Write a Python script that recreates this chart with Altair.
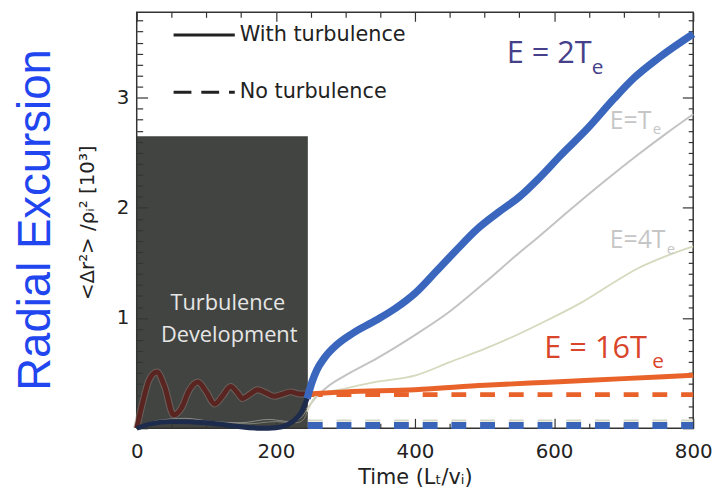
import altair as alt
import pandas as pd

# ---------------- data ----------------
# E = 2Te, with turbulence (thick blue)
t_2te = [0, 20, 50, 100, 140, 178, 200, 216, 228, 237, 245, 252, 259, 270, 288, 310, 344, 370,
         401, 430, 460, 490, 520, 550, 580, 610, 648, 686, 715, 750, 800]
v_2te = [0.0, 0.04, 0.06, 0.05, 0.02, 0.0, 0.005, 0.03, 0.08, 0.15, 0.27, 0.42, 0.53, 0.64, 0.76,
         0.86, 0.98, 1.08, 1.23, 1.42, 1.62, 1.81, 1.96, 2.10, 2.28, 2.48, 2.72, 2.99, 3.18, 3.36, 3.58]

# E = Te, with turbulence (thin grey)
t_1te = [0, 30, 70, 110, 150, 190, 220, 235, 245, 250, 273, 300, 344, 401, 450, 500, 544, 580,
         615, 672, 720, 760, 800]
v_1te = [0.0, 0.07, 0.09, 0.06, 0.05, 0.08, 0.06, 0.09, 0.17, 0.22, 0.37, 0.48, 0.63, 0.85, 1.06,
         1.32, 1.56, 1.75, 1.94, 2.24, 2.48, 2.67, 2.85]

# E = 4Te, with turbulence (thin pale)
t_4te = [0, 40, 80, 120, 160, 200, 230, 240, 245, 259, 300, 344, 401, 450, 500, 544, 590, 639,
         680, 720, 760, 800]
v_4te = [0.0, 0.05, 0.07, 0.05, 0.04, 0.06, 0.05, 0.08, 0.15, 0.30, 0.36, 0.42, 0.48, 0.60, 0.72,
         0.84, 0.98, 1.14, 1.30, 1.45, 1.56, 1.65]

# E = 16Te, with turbulence (orange)
t_16te = [0, 8, 18, 29, 40, 53, 65, 75, 88, 100, 112, 123, 135, 145, 152, 163, 174, 186, 198,
          210, 221, 235, 245, 300, 400, 500, 600, 700, 800]
v_16te = [0.0, 0.22, 0.44, 0.51, 0.38, 0.12, 0.19, 0.34, 0.42, 0.33, 0.22, 0.29, 0.38, 0.32, 0.27,
          0.31, 0.35, 0.32, 0.29, 0.31, 0.33, 0.31, 0.31, 0.33, 0.35, 0.39, 0.42, 0.45, 0.48]

# No turbulence (dashed)
t_noturb = [246, 800]
v_noturb_16te = [0.305, 0.305]
v_noturb_low = [0.07, 0.07]
v_noturb_2te = [0.025, 0.025]

# Turbulence-development box
box_t = [0, 246]
box_v = [0, 2.65]
dev_end = 245

# legend
legend_t = [53, 141]
legend_v = [3.57, 3.05]
legend_text = ["With turbulence", "No turbulence"]

# annotations
lab_text = ["E = 2T", "E=T", "E=4T", "E = 16T"]
lab_t = [532, 680, 680, 586]
lab_v = [3.40, 2.79, 1.71, 0.72]
sub_text = ["e", "e", "e", "e"]
sub_t = [654, 742, 762, 741]
sub_v = [3.27, 2.72, 1.63, 0.60]
dev_text = ["Turbulence", "Development"]
dev_t = [131, 133]
dev_v = [1.14, 0.85]
side_text = ["Radial Excursion"]
side_t = [-145]
side_v = [1.89]

x_labels = [0, 200, 400, 600, 800]
y_labels = [1, 2, 3]
x_major = [0, 200, 400, 600, 800]
x_minor = [v for v in range(50, 800, 50) if v % 200]
y_major = [0, 1, 2, 3]
y_minor = [round(i * 0.1, 1) for i in range(1, 38) if i % 10]

# ---------------- chart ----------------
X = alt.Scale(domain=[0, 800], nice=False, zero=False)
Y = alt.Scale(domain=[0, 3.775], nice=False, zero=False)


def tick_axis(orient, values, size):
    return alt.Axis(orient=orient, values=values, tickSize=alt.ExprRef(expr=str(-size)),
                    labels=False, domain=False, grid=False, title=None, ticks=True,
                    tickColor="#333333", tickWidth=1.2)


def line(ts, vs, color, width, dash=None, xa=None, ya=None, opacity=1.0):
    df = pd.DataFrame({"t": ts, "v": vs})
    kw = dict(color=color, strokeWidth=width, interpolate="monotone", opacity=opacity,
              strokeCap="butt")
    if dash:
        kw["strokeDash"] = dash
    return alt.Chart(df).mark_line(**kw).encode(
        x=alt.X("t:Q", scale=X, axis=xa),
        y=alt.Y("v:Q", scale=Y, axis=ya),
    )


def split(ts, vs):
    a = [(t, v) for t, v in zip(ts, vs) if t <= dev_end]
    b = [(t, v) for t, v in zip(ts, vs) if t >= dev_end]
    return [p[0] for p in a], [p[1] for p in a], [p[0] for p in b], [p[1] for p in b]


def text(texts, ts, vs, **mk):
    df = pd.DataFrame({"t": ts, "v": vs, "label": texts})
    return alt.Chart(df).mark_text(**mk).encode(
        x=alt.X("t:Q", scale=X, axis=None),
        y=alt.Y("v:Q", scale=Y, axis=None),
        text="label:N",
    )


x_lab_axis = alt.Axis(orient="bottom", values=x_labels, ticks=False, domain=False, grid=False,
                      labelFlush=False, labelFont="DejaVu Sans", labelFontSize=20,
                      labelColor="#222222", labelPadding=14,
                      title="Time (L\u209c/v\u1d62)", titleFont="DejaVu Sans",
                      titleFontSize=21, titleFontWeight="normal", titleColor="#222222",
                      titleX=281, titleY=50, titleAlign="center", titleBaseline="middle")
y_lab_axis = alt.Axis(orient="left", values=y_labels, ticks=False, domain=False, grid=False,
                      labelFlush=False, labelFont="DejaVu Sans", labelFontSize=20,
                      labelColor="#222222", labelPadding=8,
                      title="<\u0394r\u00b2> /\u03c1\u1d62\u00b2  [10\u00b3]",
                      titleFont="DejaVu Sans", titleFontSize=20, titleFontWeight="normal",
                      titleColor="#222222", titleAngle=270, titleX=-50, titleY=212,
                      titleAlign="center", titleBaseline="middle")

box_df = pd.DataFrame({"t0": [box_t[0]], "t1": [box_t[1]], "v0": [box_v[0]], "v1": [box_v[1]]})
box = alt.Chart(box_df).mark_rect(color="#343633", opacity=0.93).encode(
    x=alt.X("t0:Q", scale=X, axis=x_lab_axis),
    x2="t1:Q",
    y=alt.Y("v0:Q", scale=Y, axis=y_lab_axis),
    y2="v1:Q",
)

b_t0, b_v0, b_t1, b_v1 = split(t_2te, v_2te)
g_t0, g_v0, g_t1, g_v1 = split(t_1te, v_1te)
p_t0, p_v0, p_t1, p_v1 = split(t_4te, v_4te)
o_t0, o_v0, o_t1, o_v1 = split(t_16te, v_16te)

layers = [
    box,
    # dashed, no turbulence
    line(t_noturb, v_noturb_low, "#d3d7c4", 2, dash=[15, 14]),
    line(t_noturb, v_noturb_16te, "#e8622a", 5, dash=[15, 14]),
    line(t_noturb, v_noturb_2te, "#3a64b8", 7, dash=[15, 14]),
    # under the box
    line(g_t0, g_v0, "#8d8d8d", 1),
    line(p_t0, p_v0, "#7f8272", 1),
    line(o_t0, o_v0, "#8a7a74", 7, opacity=0.55),
    line(o_t0, o_v0, "#5a2420", 5),
    line(b_t0, b_v0, "#1d2b4c", 5),
    # with turbulence
    line(g_t1, g_v1, "#c3c3c3", 2,
         xa=tick_axis("bottom", x_major, 10), ya=tick_axis("left", y_major, 11)),
    line(p_t1, p_v1, "#d5d9bd", 1.8,
         xa=tick_axis("bottom", x_minor, 5), ya=tick_axis("left", y_minor, 6)),
    line(o_t1, o_v1, "#e8622a", 5,
         xa=tick_axis("top", x_major, 9), ya=tick_axis("right", y_major, 11)),
    line(b_t1, b_v1, "#3a67bd", 7.5,
         xa=tick_axis("top", x_minor, 5), ya=tick_axis("right", y_minor, 5)),
    # legend
    line(legend_t, [legend_v[0]] * 2, "#222222", 3),
    line(legend_t, [legend_v[1]] * 2, "#222222", 3, dash=[18, 10]),
    text(legend_text, [148, 148], legend_v, font="DejaVu Sans", fontSize=21, color="#222222",
         align="left", baseline="middle"),
    # annotations
    text(lab_text[:1], lab_t[:1], lab_v[:1], font="Open Sans", fontSize=31, color="#463f8a",
         align="left", baseline="middle"),
    text(sub_text[:1], sub_t[:1], sub_v[:1], font="Open Sans", fontSize=21, color="#463f8a",
         align="left", baseline="middle"),
    text(lab_text[1:3], lab_t[1:3], lab_v[1:3], font="Open Sans", fontSize=25, color="#c6c6c6",
         align="left", baseline="middle"),
    text(sub_text[1:3], sub_t[1:3], sub_v[1:3], font="Open Sans", fontSize=15, color="#c6c6c6",
         align="left", baseline="middle"),
    text(lab_text[3:], lab_t[3:], lab_v[3:], font="Open Sans", fontSize=31, color="#d9452a",
         align="left", baseline="middle"),
    text(sub_text[3:], sub_t[3:], sub_v[3:], font="Open Sans", fontSize=21, color="#d9452a",
         align="left", baseline="middle"),
    text(dev_text, dev_t, dev_v, font="Open Sans", fontSize=22, color="#e6e6e6",
         align="center", baseline="middle"),
    text(side_text, side_t, side_v, font="Liberation Sans", fontSize=46, color="#2145ee",
         align="center", baseline="middle", angle=270),
]

chart = alt.layer(*layers).resolve_axis(x="independent", y="independent").properties(
    width=562, height=420,
    autosize=alt.AutoSizeParams(type="none"),
    padding={"left": 130, "top": 2, "right": 20, "bottom": 61},
).configure_view(stroke="#333333", strokeWidth=1.5).configure_axis(grid=False)

chart.save("out.html", embed_options={"renderer": "svg", "actions": False})
